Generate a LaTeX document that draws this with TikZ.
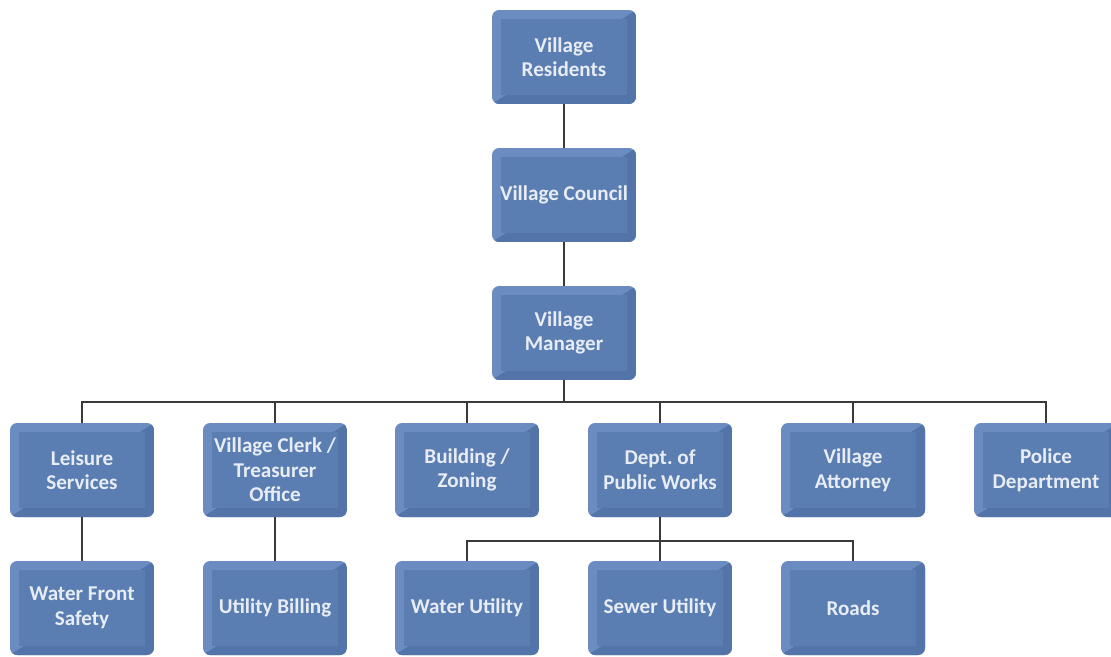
\documentclass[tikz,border=0pt]{standalone}
\usepackage{fontspec}
\setmainfont{Carlito}
\usetikzlibrary{calc}

\definecolor{boxface}{HTML}{5A7DB2}
\definecolor{boxlite}{HTML}{6A8CC0}
\definecolor{boxdark}{HTML}{5274A8}
\definecolor{boxtext}{HTML}{E8EDF5}
\definecolor{wire}{HTML}{3A3A3A}

\tikzset{
  unit/.style={rectangle,rounded corners=4pt,minimum width=2.88cm,minimum height=1.88cm,
    fill=boxlite,align=center,text=boxtext,font=\fontsize{12}{14}\selectfont\bfseries,
    path picture={
      \fill[boxdark,sharp corners] (path picture bounding box.north east)--(path picture bounding box.south east)
        --(path picture bounding box.south west)--cycle;
      \fill[boxface,sharp corners] ([xshift=5pt,yshift=-5pt]path picture bounding box.north west) rectangle
        ([xshift=-5pt,yshift=5pt]path picture bounding box.south east);}},
  link/.style={draw=wire,line width=1.1pt}
}

\begin{document}
\begin{tikzpicture}[x=0.02cm,y=-0.02cm]
\useasboundingbox (0,0) rectangle (1111,656);
% top of the chart
\node[unit] (res) at (564,57) {Village\\Residents};
\node[unit] (cou) at (564,195) {Village Council};
\node[unit] (man) at (564,333) {Village\\Manager};
% departments
\node[unit] (lei) at (82,470) {Leisure\\Services};
\node[unit] (clk) at (275,470) {Village Clerk /\\Treasurer\\Office};
\node[unit] (bld) at (467,470) {Building /\\Zoning};
\node[unit] (dpw) at (660,470) {Dept.\ of\\Public Works};
\node[unit] (att) at (853,470) {Village\\Attorney};
\node[unit] (pol) at (1046,470) {Police\\Department};
% bottom row
\node[unit] (wfs) at (82,608) {Water Front\\Safety};
\node[unit] (ubl) at (275,608) {Utility Billing};
\node[unit] (wut) at (467,608) {Water Utility};
\node[unit] (sut) at (660,608) {Sewer Utility};
\node[unit] (rds) at (853,608) {Roads};

\coordinate (bar) at (564,402);
\coordinate (dbar) at (660,541);
\draw[link] (res)--(cou);
\draw[link] (cou)--(man);
\foreach \n in {lei,clk,bld,dpw,att,pol}
  \draw[link] (man.south)--(man.south |- bar)-|(\n.north);
\draw[link] (lei)--(wfs);
\draw[link] (clk)--(ubl);
\foreach \n in {wut,sut,rds}
  \draw[link] (dpw.south)--(dpw.south |- dbar)-|(\n.north);
\end{tikzpicture}
\end{document}
